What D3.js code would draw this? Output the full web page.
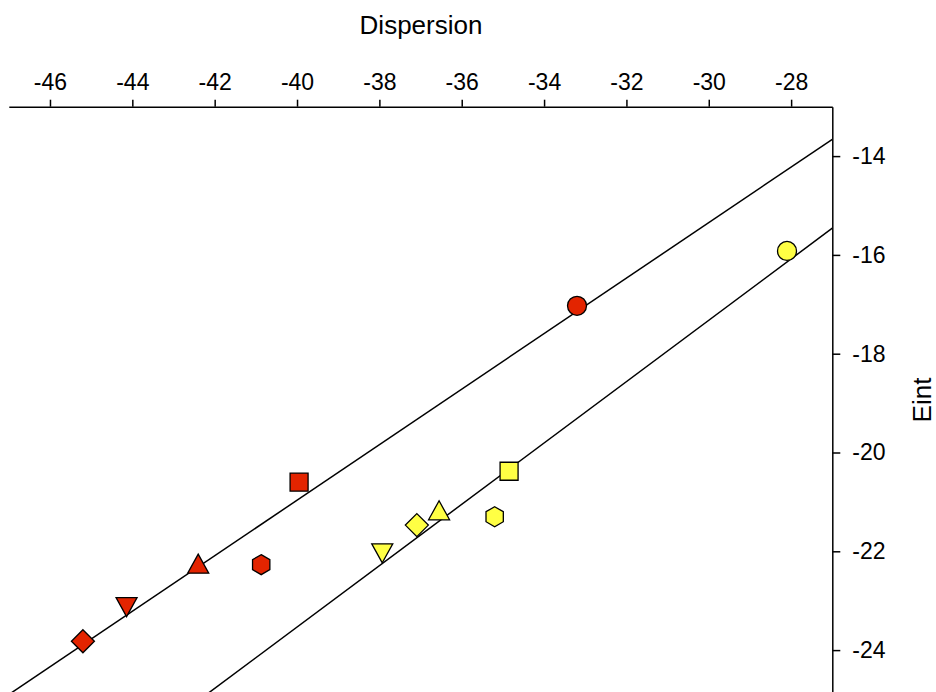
<!DOCTYPE html>
<html lang="en">
<head>
<meta charset="UTF-8">
<title>Eint vs Dispersion</title>
<script src="https://d3js.org/d3.v7.min.js"></script>
<style>
  body { margin: 0; background: #fff; }
  svg { display: block; font-family: Arial, "Liberation Sans", sans-serif; overflow: hidden; }
  .axis path, .axis line { stroke: #000; stroke-width: 1.5; }
  .axis text { font-size: 23px; fill: #000; }
</style>
</head>
<body>
<svg width="936" height="692"></svg>
<script>
var width = 936, height = 692

// data, same shape order for both series
var shapes = ["diamond", "triangleDown", "triangleUp", "hexagon", "square", "circle"]
var redX = [-45.2, -44.14, -42.4, -40.87, -39.95, -33.2]
var redY = [-23.82, -23.12, -22.26, -22.27, -20.6, -17.03]
var yellowX = [-37.09, -37.93, -36.55, -35.2, -34.85, -28.1]
var yellowY = [-21.47, -22.03, -21.18, -21.3, -20.38, -15.92]

// fit lines (end points at the x limits)
var fitX = [-47, -27]
var fitRedY = [-24.9, -13.66]
var fitYellowY = [-27.88, -15.46]

var xTicks = [-46, -44, -42, -40, -38, -36, -34, -32, -30, -28]
var yTicks = [-14, -16, -18, -20, -22, -24]

var redColor = "#e32400", yellowColor = "#ffff44"

var svg = d3.select("svg")

var x = d3.scaleLinear().domain([-47, -27]).range([8.8, 832.3])
var y = d3.scaleLinear().domain([-13, -25]).range([106.7, 699.5])

// plain hyphen for negatives, like the original
var fmt = function(d) { return String(d) }

// clip for the plot area
svg.append("defs").append("clipPath").attr("id", "plot")
  .append("rect")
  .attr("x", x(-47)).attr("y", y(-13))
  .attr("width", x(-27) - x(-47)).attr("height", y(-25) - y(-13))

// fit lines
var line = d3.line().x(function(d) { return x(d[0]) }).y(function(d) { return y(d[1]) })
var fits = [d3.zip(fitX, fitRedY), d3.zip(fitX, fitYellowY)]
svg.append("g").attr("clip-path", "url(#plot)")
  .selectAll("path").data(fits).enter()
  .append("path")
  .attr("d", line)
  .attr("fill", "none")
  .attr("stroke", "#000")
  .attr("stroke-width", 1.5)

// axes
svg.append("g").attr("class", "axis")
  .attr("transform", "translate(0," + y(-13) + ")")
  .call(d3.axisTop(x).tickValues(xTicks).tickFormat(fmt).tickSizeInner(7).tickSizeOuter(0).tickPadding(10))

svg.append("g").attr("class", "axis")
  .attr("transform", "translate(" + x(-27) + ",0)")
  .call(d3.axisRight(y).tickValues(yTicks).tickFormat(fmt).tickSizeInner(8).tickSizeOuter(0).tickPadding(12))

svg.append("text")
  .attr("x", 421).attr("y", 34)
  .attr("text-anchor", "middle")
  .attr("font-size", 26)
  .text("Dispersion")

svg.append("text")
  .attr("transform", "translate(931,400) rotate(-90)")
  .attr("text-anchor", "middle")
  .attr("font-size", 26)
  .text("Eint")

// marker shapes, drawn around (0,0)
function symbolPath(kind) {
  var p = d3.path()
  if (kind == "circle") {
    p.arc(0, 0, 9.5, 0, 2 * Math.PI)
  } else if (kind == "square") {
    p.rect(-9, -9, 18, 18)
  } else if (kind == "diamond") {
    p.moveTo(0, -11.5); p.lineTo(11.5, 0); p.lineTo(0, 11.5); p.lineTo(-11.5, 0); p.closePath()
  } else if (kind == "triangleUp") {
    p.moveTo(0, -10); p.lineTo(10.5, 9); p.lineTo(-10.5, 9); p.closePath()
  } else if (kind == "triangleDown") {
    p.moveTo(0, 10); p.lineTo(10.5, -9); p.lineTo(-10.5, -9); p.closePath()
  } else if (kind == "hexagon") {
    for (var i = 0; i < 6; i++) {
      var a = Math.PI / 3 * i - Math.PI / 2
      if (i == 0) p.moveTo(10 * Math.cos(a), 10 * Math.sin(a))
      else p.lineTo(10 * Math.cos(a), 10 * Math.sin(a))
    }
    p.closePath()
  }
  return p.toString()
}

function drawSeries(xs, ys, color) {
  var pts = xs.map(function(v, i) { return { x: v, y: ys[i], shape: shapes[i] } })
  svg.append("g").selectAll("path").data(pts).enter()
    .append("path")
    .attr("transform", function(d) { return "translate(" + x(d.x) + "," + y(d.y) + ")" })
    .attr("d", function(d) { return symbolPath(d.shape) })
    .attr("fill", color)
    .attr("stroke", "#000")
    .attr("stroke-width", 1.3)
}

drawSeries(redX, redY, redColor)
drawSeries(yellowX, yellowY, yellowColor)
</script>
</body>
</html>
